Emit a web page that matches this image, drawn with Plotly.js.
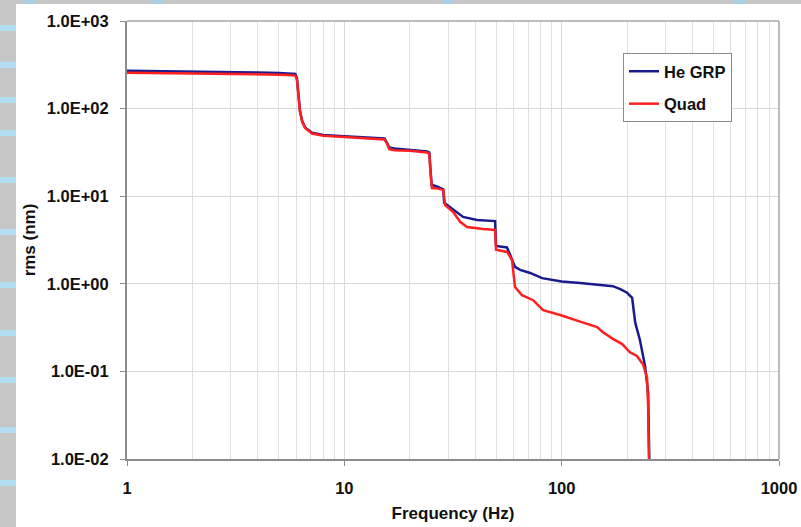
<!DOCTYPE html>
<html>
<head>
<meta charset="utf-8">
<script src="https://cdn.plot.ly/plotly-3.0.1.min.js"></script>
<style>
  html, body { margin: 0; padding: 0; background: #ffffff; }
  #chart { width: 801px; height: 527px; }
</style>
</head>
<body>
<div id="chart"></div>
<script>
// ---- Data ----
const seriesNames = ['He GRP', 'Quad'];

const heGrpFreq = [1, 1.5, 2, 3, 4, 5, 5.8, 5.95, 6.05, 6.15, 6.25, 6.4, 6.6, 7.1, 8, 10, 12, 14, 15.3, 15.7, 16.1, 17, 20, 24, 24.6, 24.9, 25.2, 27, 28.5, 28.8, 30.6, 33.4, 35.2, 40.8, 49.4, 49.9, 56, 57.9, 61, 64.4, 71.6, 81.3, 100, 121.6, 150, 172, 186, 200, 211, 218, 229, 242, 250, 252, 253];
const heGrpRms  = [270, 268, 265, 262, 258, 255, 252, 248, 225, 150, 95, 72, 61, 53, 50, 48.5, 47.5, 46.5, 45.5, 41, 36, 35, 34, 32.5, 31.5, 20, 13.5, 12.8, 12, 8.4, 7.5, 6.4, 5.8, 5.35, 5.2, 2.7, 2.6, 2.15, 1.56, 1.44, 1.33, 1.16, 1.06, 1.02, 0.98, 0.94, 0.87, 0.79, 0.69, 0.36, 0.23, 0.115, 0.057, 0.023, 0.01];

const quadFreq = [1, 2, 3, 4, 5, 5.8, 5.95, 6.05, 6.15, 6.25, 6.4, 6.6, 7.1, 8, 10, 12, 14, 15.3, 15.7, 16.1, 17, 20, 24, 24.6, 24.9, 25.3, 27, 28.5, 29.1, 31.7, 34.1, 36.7, 43.5, 49.4, 49.9, 56.1, 59.1, 59.8, 61, 65.7, 73.9, 82.1, 98.4, 121.6, 145.5, 155, 172, 190, 206, 222, 237, 247, 250, 252];
const quadRms  = [257, 253, 250, 247, 244, 241, 237, 215, 145, 92, 70, 60, 52, 49, 47.5, 46.5, 45.5, 44.5, 40, 34.5, 33.5, 33, 31.5, 30.5, 19, 12.4, 12.2, 11.8, 7.9, 6.6, 5.1, 4.45, 4.23, 4.12, 2.45, 2.31, 1.87, 1.33, 0.92, 0.74, 0.65, 0.50, 0.44, 0.37, 0.32, 0.28, 0.235, 0.205, 0.165, 0.15, 0.12, 0.085, 0.04, 0.01];

const xTickVals = [1, 10, 100, 1000];
const xTickText = ['1', '10', '100', '1000'];
const yTickVals = [0.01, 0.1, 1, 10, 100, 1000];
const yTickText = ['1.0E-02', '1.0E-01', '1.0E+00', '1.0E+01', '1.0E+02', '1.0E+03'];
const xMinorVals = [2,3,4,5,6,7,8,9,20,30,40,50,60,70,80,90,200,300,400,500,600,700,800,900];

// ---- Layout helpers (pixel -> paper) ----
const L = 127, R = 779, T = 21, B = 459;
const px = x => (x - L) / (R - L);
const py = y => (B - y) / (B - T);

const fontBase = { family: 'Liberation Sans, Arial, sans-serif', size: 16.5, color: '#111111', weight: 700 };
const fontTitle = { family: 'Liberation Sans, Arial, sans-serif', size: 17, color: '#111111', weight: 700 };

const shapes = [];
// slide background strips
shapes.push({ type: 'rect', xref: 'paper', yref: 'paper', x0: px(0), x1: px(16), y0: py(527), y1: py(0), fillcolor: '#c6c6c6', line: { width: 0 }, layer: 'above' });
shapes.push({ type: 'rect', xref: 'paper', yref: 'paper', x0: px(0), x1: px(801), y0: py(4), y1: py(0), fillcolor: '#c6c6c6', line: { width: 0 }, layer: 'above' });
[28, 65, 100, 133, 180, 232, 285, 333, 380, 430, 483].forEach(yc => {
  shapes.push({ type: 'rect', xref: 'paper', yref: 'paper', x0: px(0), x1: px(16), y0: py(yc + 3), y1: py(yc - 3), fillcolor: '#b3ddf2', line: { width: 0 }, layer: 'above' });
});
[22, 150, 440, 732].forEach(xc => {
  shapes.push({ type: 'path', xref: 'paper', yref: 'paper',
    path: `M ${px(xc)} ${py(4)} L ${px(xc + 12)} ${py(4)} L ${px(xc + 15)} ${py(0)} L ${px(xc + 3)} ${py(0)} Z`,
    fillcolor: '#a9cfe6', line: { width: 0 }, layer: 'above' });
});
// plot frame (top / right)
shapes.push({ type: 'line', xref: 'paper', yref: 'paper', x0: 0, x1: 1, y0: 1, y1: 1, line: { color: '#a6a6a6', width: 1.5 }, layer: 'above' });
shapes.push({ type: 'line', xref: 'paper', yref: 'paper', x0: 1, x1: 1, y0: 0, y1: 1, line: { color: '#a6a6a6', width: 1.5 }, layer: 'above' });

const traces = [
  { x: heGrpFreq, y: heGrpRms, name: seriesNames[0], type: 'scatter', mode: 'lines',
    line: { color: '#1a1a8f', width: 2.5 }, legendgroup: 'a' },
  { x: quadFreq, y: quadRms, name: seriesNames[1], type: 'scatter', mode: 'lines',
    line: { color: '#ff1f1f', width: 2.5 }, legendgroup: 'b' }
];

const layout = {
  width: 801, height: 527,
  margin: { l: L, r: 801 - R, t: T, b: 527 - B, pad: 0 },
  paper_bgcolor: '#ffffff',
  plot_bgcolor: '#ffffff',
  font: fontBase,
  showlegend: true,
  legend: {
    x: px(623), y: py(53), xanchor: 'left', yanchor: 'top',
    bgcolor: '#ffffff', bordercolor: '#8c8c8c', borderwidth: 1,
    font: fontBase, traceorder: 'grouped', tracegroupgap: 8
  },
  xaxis: {
    type: 'log', range: [0, 3], autorange: false,
    tickmode: 'array', tickvals: xTickVals, ticktext: xTickText,
    showgrid: true, gridcolor: '#d9d9d9', gridwidth: 1,
    minor: { tickmode: 'array', tickvals: xMinorVals, showgrid: true, gridcolor: '#e0e0e0', gridwidth: 1, ticks: '' },
    showline: true, linecolor: '#8c8c8c', linewidth: 2,
    ticks: 'outside', ticklen: 5, tickcolor: '#8c8c8c', tickwidth: 1,
    ticklabelstandoff: 8,
    zeroline: false, automargin: false,
    tickfont: fontBase,
    title: { text: 'Frequency (Hz)', font: fontTitle, standoff: 11 }
  },
  yaxis: {
    type: 'log', range: [-2, 3], autorange: false,
    tickmode: 'array', tickvals: yTickVals, ticktext: yTickText,
    showgrid: true, gridcolor: '#d9d9d9', gridwidth: 1,
    showline: true, linecolor: '#8c8c8c', linewidth: 2,
    ticks: 'outside', ticklen: 5, tickcolor: '#8c8c8c', tickwidth: 1,
    ticklabelstandoff: 8,
    zeroline: false, automargin: false,
    tickfont: fontBase,
    title: { text: 'rms (nm)', font: fontTitle, standoff: 7 }
  },
  shapes: shapes
};

Plotly.newPlot('chart', traces, layout, { displayModeBar: false, staticPlot: true });
</script>
</body>
</html>
